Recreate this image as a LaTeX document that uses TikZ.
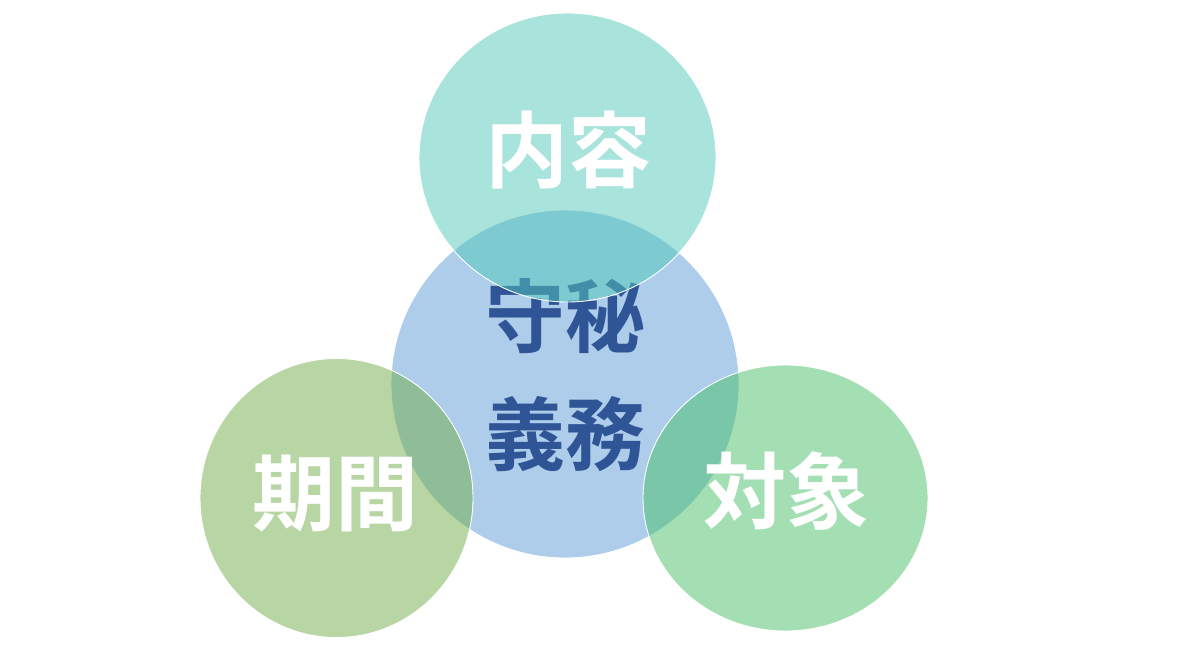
\documentclass[tikz,border=0pt]{standalone}
\usepackage{fontspec}
\newfontfamily\jp{Noto Sans CJK JP}[BoldFont={Noto Sans CJK JP Bold}]
\definecolor{cblue}{HTML}{5B9BD5}
\definecolor{cteal}{HTML}{51C7B9}
\definecolor{cgreen}{HTML}{70AD47}
\definecolor{cmint}{HTML}{47BF67}
\definecolor{ctext}{HTML}{2F5597}
\begin{document}
\begin{tikzpicture}[x=1pt,y=1pt,
  bubble/.style={draw=white,line width=0.9pt,fill opacity=0.5},
  outertext/.style={text=white,font=\jp\bfseries\fontsize{83}{90}\selectfont,inner sep=0pt,anchor=base},
  centertext/.style={text=ctext,font=\jp\bfseries\fontsize{80}{118}\selectfont,inner sep=0pt,align=center}]
\useasboundingbox (0,0) rectangle (1193,646);
% center circle
\path[bubble,fill=cblue] (565,262) ellipse [x radius=174,y radius=174];
\node[centertext] (c) at (565,271) {守秘\\義務};
% outer circles
\path[bubble,fill=cteal] (567.5,488.5) ellipse [x radius=148.5,y radius=144.5];
\path[bubble,fill=cgreen] (336.5,148) ellipse [x radius=136.5,y radius=139.5];
\path[bubble,fill=cmint] (785.5,148) ellipse [x radius=142.5,y radius=133];
\node[outertext] (t) at (568,464) {内容};
\node[outertext] (l) at (335,122) {期間};
\node[outertext] (r) at (786,124) {対象};
\end{tikzpicture}
\end{document}
